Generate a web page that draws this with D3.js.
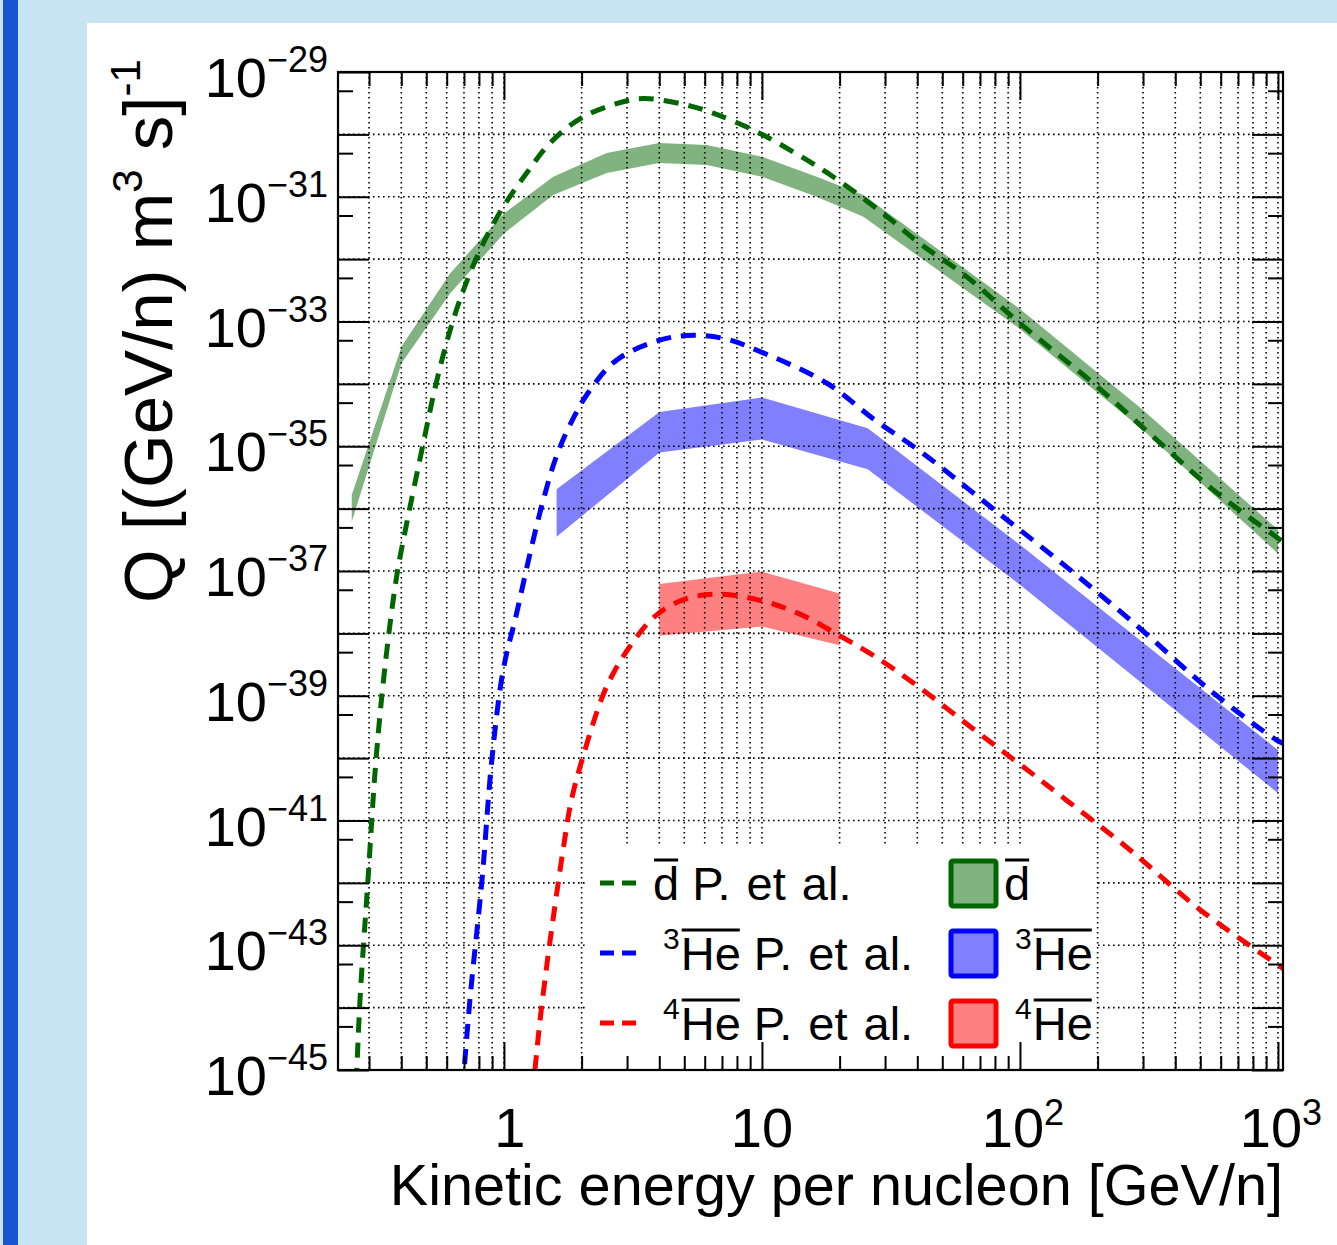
<!DOCTYPE html>
<html><head><meta charset="utf-8">
<script src="https://cdn.jsdelivr.net/npm/d3@7"></script>
<style>html,body{margin:0;padding:0;background:#c6e4f1;} svg{display:block;}</style>
</head><body>
<script>
// ---------------- DATA (log10 readings) ----------------
// d-bar model (dashed, "P. et al.")
const dbarModelLogE = [-0.572,-0.558,-0.527,-0.496,-0.461,-0.416,-0.380,-0.310,-0.261,-0.197,-0.132,-0.060,0.010,0.088,0.178,0.307,0.488,0.566,0.708,0.811,0.966,1.121,1.276,1.470,1.612,1.793,2.000,2.284,2.517,2.749,3.008,3.030];
const dbarModelLogQ = [-45.2,-43.88,-41.95,-40.03,-38.53,-37.09,-36.30,-34.90,-33.96,-32.98,-32.23,-31.58,-31.08,-30.62,-30.14,-29.72,-29.45,-29.43,-29.53,-29.66,-29.93,-30.28,-30.68,-31.27,-31.75,-32.28,-33.03,-33.99,-34.85,-35.70,-36.50,-36.57];
// 3He-bar model
const he3ModelLogE = [-0.160,-0.132,-0.085,-0.047,-0.003,0.049,0.101,0.150,0.200,0.251,0.325,0.436,0.603,0.733,0.860,0.992,1.252,1.438,1.623,1.901,2.179,2.457,2.736,2.995,3.030];
const he3ModelLogQ = [-45.3,-43.88,-41.95,-40.03,-38.59,-37.68,-36.72,-35.90,-35.20,-34.70,-34.15,-33.62,-33.30,-33.22,-33.28,-33.48,-33.99,-34.58,-35.11,-36.02,-36.93,-37.89,-38.91,-39.71,-39.78];
// 4He-bar model
const he4ModelLogE = [0.110,0.120,0.140,0.170,0.200,0.230,0.260,0.306,0.381,0.424,0.488,0.584,0.696,0.826,0.992,1.141,1.298,1.438,1.605,1.809,1.994,2.179,2.426,2.698,3.030];
const he4ModelLogQ = [-45.4,-45.0,-44.2,-43.2,-42.3,-41.45,-40.70,-39.98,-39.02,-38.64,-38.21,-37.73,-37.46,-37.37,-37.47,-37.68,-38.03,-38.37,-38.85,-39.50,-40.08,-40.67,-41.47,-42.43,-43.40];
// d-bar band
const dbarBandLogE  = [-0.590,-0.397,-0.209,0.000,0.191,0.398,0.602,0.786,1.000,1.212,1.393,2.000,2.477,3.000];
const dbarBandUpper = [-35.78,-33.40,-32.23,-31.27,-30.68,-30.30,-30.14,-30.17,-30.36,-30.68,-30.97,-32.80,-34.42,-36.34];
const dbarBandLower = [-36.21,-33.67,-32.55,-31.59,-30.97,-30.62,-30.46,-30.49,-30.68,-31.00,-31.32,-33.12,-34.74,-36.72];
// 3He-bar band
const he3BandLogE  = [0.204,0.603,1.000,1.410,2.000,3.000];
const he3BandUpper = [-35.69,-34.45,-34.22,-34.71,-36.58,-39.87];
const he3BandLower = [-36.45,-35.10,-34.89,-35.37,-37.22,-40.56];
// 4He-bar band
const he4BandLogE  = [0.602,1.000,1.301];
const he4BandUpper = [-37.21,-37.01,-37.36];
const he4BandLower = [-38.04,-37.89,-38.19];
// ticks / labels
const xLabelValues = [1,10,100,1000];
const xLabelBase   = ["1","10","10","10"];
const xLabelSup    = ["","","2","3"];
const yLabelExps   = [-29,-31,-33,-35,-37,-39,-41,-43,-45];
const legendIso    = ["","3","4"];
const legendName   = ["d","He","He"];
const legendSuffix = "P. et al.";

// ---------------- LAYOUT ----------------
const W=1337,H=1245;
const FONT="'Liberation Sans', Arial, Helvetica, sans-serif";
const svg=d3.select("body").append("svg").attr("width",W).attr("height",H)
  .attr("font-family",FONT).attr("fill","#000");
svg.append("rect").attr("width",W).attr("height",H).attr("fill","#c6e4f1");
svg.append("rect").attr("x",3).attr("y",0).attr("width",15).attr("height",H).attr("fill","#1a55d0");
svg.append("rect").attr("x",87).attr("y",23).attr("width",W-87).attr("height",H-23).attr("fill","#ffffff");

const L=338,R=1283,T=72,B=1070;
const x=d3.scaleLog().domain([0.2274,1046]).range([L,R]);
const y=d3.scaleLog().domain([1e-45,1e-29]).range([B,T]);
const P=v=>Math.pow(10,v);

svg.append("defs").append("clipPath").attr("id","clip")
  .append("rect").attr("x",L).attr("y",T).attr("width",R-L).attr("height",B-T);
const plot=svg.append("g").attr("clip-path","url(#clip)");

const COLORS={d:{line:"#006600",fill:"#80b380",edge:"#006600"},
              h3:{line:"#0000ff",fill:"#8080ff",edge:"#0000ff"},
              h4:{line:"#ff0000",fill:"#ff8080",edge:"#ff0000"}};

// bands
function band(logE,up,lo,col){
  const data=logE.map((e,i)=>({e:P(e),u:P(up[i]),l:P(lo[i])}));
  plot.append("path").datum(data)
    .attr("d",d3.area().x(d=>x(d.e)).y0(d=>y(d.l)).y1(d=>y(d.u)))
    .attr("fill",col);
}
band(dbarBandLogE,dbarBandUpper,dbarBandLower,COLORS.d.fill);
band(he3BandLogE,he3BandUpper,he3BandLower,COLORS.h3.fill);
band(he4BandLogE,he4BandUpper,he4BandLower,COLORS.h4.fill);

// grid
const xTickVals=x.ticks();
const xMajor=xTickVals.filter(v=>Math.abs(Math.log10(v)-Math.round(Math.log10(v)))<1e-9);
const xMinor=xTickVals.filter(v=>!xMajor.includes(v));
const yDecades=d3.range(-45,-28).map(P);
const yFives=d3.range(-45,-29).map(k=>5*P(k));
const grid=plot.append("g").attr("stroke","#000").attr("stroke-width",1.6).attr("stroke-dasharray","1.6,3.4");
grid.selectAll("line.v").data(xTickVals).join("line")
  .attr("x1",d=>x(d)).attr("x2",d=>x(d)).attr("y1",T).attr("y2",B);
grid.selectAll("line.h").data(yDecades).join("line")
  .attr("y1",d=>y(d)).attr("y2",d=>y(d)).attr("x1",L).attr("x2",R);

// model curves
function model(logE,logQ,col){
  const data=logE.map((e,i)=>({e:P(e),q:P(logQ[i])}));
  plot.append("path").datum(data)
    .attr("d",d3.line().x(d=>x(d.e)).y(d=>y(d.q)).curve(d3.curveCatmullRom.alpha(0.5)))
    .attr("fill","none").attr("stroke",col).attr("stroke-width",5).attr("stroke-dasharray","15,10");
}
model(dbarModelLogE,dbarModelLogQ,COLORS.d.line);
model(he3ModelLogE,he3ModelLogQ,COLORS.h3.line);
model(he4ModelLogE,he4ModelLogQ,COLORS.h4.line);

// legend
const leg=svg.append("g");
leg.append("rect").attr("x",587).attr("y",845).attr("width",509).attr("height",223).attr("fill","#fff");
const legCols=[COLORS.d,COLORS.h3,COLORS.h4];
const LFS=47;
function rich(g,x0,yb,iso,name,suffix,fs){
  let cx=x0;
  if(iso){
    const s=g.append("text").attr("x",cx).attr("y",yb-21).attr("font-size",30).text(iso);
    cx+=s.node().getComputedTextLength()+1;
  }
  const n=g.append("text").attr("x",cx).attr("y",yb).attr("font-size",fs).text(name);
  const w=n.node().getComputedTextLength();
  g.append("line").attr("x1",cx+1).attr("x2",cx+w-1).attr("y1",yb-40).attr("y2",yb-40)
    .attr("stroke","#000").attr("stroke-width",3);
  cx+=w;
  if(suffix) g.append("text").attr("x",cx+0.278*fs).attr("y",yb).attr("font-size",fs)
    .attr("word-spacing",3).text(suffix);
}
legendName.forEach((nm,i)=>{
  const yb=900+i*70;
  const c=legCols[i];
  leg.append("line").attr("x1",600).attr("x2",636).attr("y1",yb-17).attr("y2",yb-17)
    .attr("stroke",c.line).attr("stroke-width",5).attr("stroke-dasharray","14,8");
  rich(leg, i===0?653:663, yb, legendIso[i], nm, legendSuffix, LFS);
  leg.append("rect").attr("x",951).attr("y",yb-39).attr("width",45).attr("height",45)
    .attr("fill",c.fill).attr("stroke",c.edge).attr("stroke-width",5).attr("rx",2);
  rich(leg, i===0?1004:1015, yb, legendIso[i], nm, "", LFS);
});

// axes
function styleAxis(g){g.select(".domain").remove();g.selectAll("line").attr("stroke","#000").attr("stroke-width",2);}
svg.append("g").attr("transform",`translate(0,${B})`).call(d3.axisBottom(x).tickValues(xMinor).tickSize(-14).tickFormat("")).call(styleAxis);
svg.append("g").attr("transform",`translate(0,${B})`).call(d3.axisBottom(x).tickValues(xMajor).tickSize(-28).tickFormat("")).call(styleAxis);
svg.append("g").attr("transform",`translate(0,${T})`).call(d3.axisTop(x).tickValues(xMinor).tickSize(-14).tickFormat("")).call(styleAxis);
svg.append("g").attr("transform",`translate(0,${T})`).call(d3.axisTop(x).tickValues(xMajor).tickSize(-28).tickFormat("")).call(styleAxis);
svg.append("g").attr("transform",`translate(${L},0)`).call(d3.axisLeft(y).tickValues(yDecades).tickSize(-31).tickFormat("")).call(styleAxis);
svg.append("g").attr("transform",`translate(${L},0)`).call(d3.axisLeft(y).tickValues(yFives).tickSize(-15).tickFormat("")).call(styleAxis);
svg.append("g").attr("transform",`translate(${R},0)`).call(d3.axisRight(y).tickValues(yDecades).tickSize(-31).tickFormat("")).call(styleAxis);
svg.append("g").attr("transform",`translate(${R},0)`).call(d3.axisRight(y).tickValues(yFives).tickSize(-15).tickFormat("")).call(styleAxis);
svg.append("rect").attr("x",L).attr("y",T).attr("width",R-L).attr("height",B-T)
  .attr("fill","none").attr("stroke","#000").attr("stroke-width",2.2);

// tick labels
yLabelExps.forEach(k=>{
  const t=svg.append("text").attr("x",328).attr("y",y(P(k))+25).attr("text-anchor","end").attr("font-size",56);
  t.append("tspan").text("10");
  t.append("tspan").attr("font-size",36).attr("dy",-25).text("\u2212"+Math.abs(k));
});
xLabelValues.forEach((v,i)=>{
  const dx = xLabelSup[i] ? 3 : (xLabelBase[i]==="1" ? 6 : 0);
  const t=svg.append("text").attr("x",x(v)+dx).attr("y",1147).attr("text-anchor","middle").attr("font-size",56);
  t.append("tspan").text(xLabelBase[i]);
  if(xLabelSup[i]) t.append("tspan").attr("font-size",36).attr("dy",-22).text(xLabelSup[i]);
});

// axis titles
svg.append("text").attr("x",1283).attr("y",1205).attr("text-anchor","end").attr("font-size",57.6)
  .text("Kinetic energy per nucleon [GeV/n]");
const yt=svg.append("text").attr("transform","translate(172,603) rotate(-90)").attr("font-size",69);
yt.append("tspan").text("Q [(GeV/n) m");
yt.append("tspan").attr("font-size",42).attr("dy",-30).text("3");
yt.append("tspan").attr("dy",30).text(" s]");
yt.append("tspan").attr("font-size",42).attr("dy",-32).text("-1");
</script>
</body></html>
